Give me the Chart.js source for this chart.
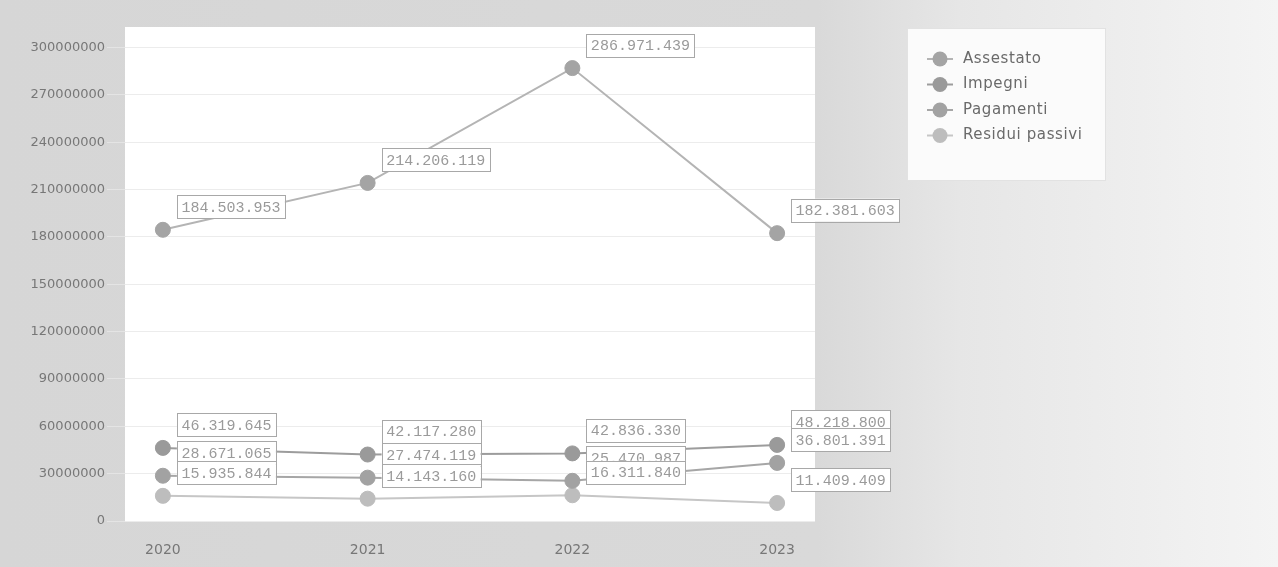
<!DOCTYPE html>
<html><head><meta charset="utf-8">
<script src="https://cdn.jsdelivr.net/npm/chart.js@4/dist/chart.umd.min.js"></script>
<style>html,body{margin:0;padding:0;background:#dcdcdc;}#wrap{width:1278px;height:567px;}</style>
</head><body><div id="wrap"><canvas id="c" width="1278" height="567"></canvas></div>
<script>
const categories = ['2020','2021','2022','2023'];
const assestato = [184503953, 214206119, 286971439, 182381603];
const impegni = [46319645, 42117280, 42836330, 48218800];
const pagamenti = [28671065, 27474119, 25470987, 36801391];
const residui = [15935844, 14143160, 16311840, 11409409];
const seriesNames = ['Assestato','Impegni','Pagamenti','Residui passivi'];
const yTicks = [0,30000000,60000000,90000000,120000000,150000000,180000000,210000000,240000000,270000000,300000000];

const lineColors = ['#b4b4b4','#9c9c9c','#a6a6a6','#c6c6c6'];
const pointColors = ['#a4a4a4','#9a9a9a','#a2a2a2','#bdbdbd'];
const allSeries = [assestato, impegni, pagamenti, residui];

function fmt(v){ return String(v).replace(/\B(?=(\d{3})+(?!\d))/g,'.'); }

const bgPlugin = {
  id:'bg',
  beforeDraw(chart){
    const {ctx, chartArea:a, width, height} = chart;
    ctx.save();
    const g = ctx.createLinearGradient(0,0,width,0);
    g.addColorStop(0,'#d6d6d6');
    g.addColorStop(0.64,'#d9d9d9');
    g.addColorStop(0.75,'#e6e6e6');
    g.addColorStop(1,'#f4f4f4');
    ctx.fillStyle = g;
    ctx.fillRect(0,0,width,height);
    ctx.fillStyle = '#ffffff';
    ctx.fillRect(a.left, a.top, a.right-a.left, a.bottom-a.top+1);
    ctx.restore();
  }
};

const labelPlugin = {
  id:'vlabels',
  afterDatasetsDraw(chart){
    const ctx = chart.ctx;
    ctx.save();
    ctx.font = '15px "Liberation Mono", monospace';
    ctx.textBaseline = 'middle';
    chart.data.datasets.forEach((ds, di) => {
      const meta = chart.getDatasetMeta(di);
      meta.data.forEach((pt, i) => {
        const txt = fmt(ds.data[i].y);
        const w = ctx.measureText(txt).width + 9;
        const h = 23;
        const x = pt.x + 14;
        const cy = pt.y - 23;
        ctx.fillStyle = '#ffffff';
        ctx.fillRect(x, cy - h/2, w, h);
        ctx.strokeStyle = '#a8a8a8';
        ctx.lineWidth = 1;
        ctx.strokeRect(Math.round(x)+0.5, Math.round(cy - h/2)+0.5, Math.round(w), h);
        ctx.fillStyle = '#9a9a9a';
        ctx.fillText(txt, x + 4.5, cy + 1);
      });
    });
    ctx.restore();
  }
};

const legendPlugin = {
  id:'customLegend',
  afterDraw(chart){
    const ctx = chart.ctx;
    ctx.save();
    ctx.fillStyle = '#fbfbfb';
    ctx.fillRect(907, 28, 198, 152);
    ctx.strokeStyle = '#e2e2e2';
    ctx.lineWidth = 1;
    ctx.strokeRect(907.5, 28.5, 198, 152);
    ctx.font = '15px "DejaVu Sans", sans-serif';
    if ('letterSpacing' in ctx) ctx.letterSpacing = '0.6px';
    ctx.textBaseline = 'middle';
    chart.data.datasets.forEach((ds, i) => {
      const y = 59 + i*25.5;
      ctx.strokeStyle = ds.borderColor;
      ctx.lineWidth = 2;
      ctx.beginPath(); ctx.moveTo(927, y); ctx.lineTo(953, y); ctx.stroke();
      ctx.fillStyle = ds.pointBackgroundColor;
      ctx.beginPath(); ctx.arc(940, y, 7.5, 0, Math.PI*2); ctx.fill();
      ctx.fillStyle = '#6a6a6a';
      ctx.fillText(ds.label, 963, y);
    });
    ctx.restore();
  }
};

const datasets = allSeries.map((vals, k) => ({
  label: seriesNames[k],
  data: vals.map((v, i) => ({x: i, y: v})),
  borderColor: lineColors[k],
  backgroundColor: pointColors[k],
  pointBackgroundColor: pointColors[k],
  pointBorderColor: pointColors[k],
  pointRadius: 7.5,
  pointBorderWidth: 1,
  borderWidth: 2,
  tension: 0,
  fill: false
}));

new Chart(document.getElementById('c'), {
  type: 'line',
  data: { datasets },
  options: {
    responsive: false,
    animation: false,
    devicePixelRatio: 1,
    layout: { padding: { left: 0, right: 463, top: 27, bottom: 0 } },
    plugins: { legend: { display: false }, tooltip: { enabled: false } },
    scales: {
      x: {
        type: 'linear',
        min: -0.185, max: 3.185,
        grid: { display: false, drawTicks: false },
        border: { display: false },
        afterBuildTicks(scale){ scale.ticks = categories.map((c, i) => ({value: i})); },
        afterFit(scale){ scale.height = 46; },
        ticks: {
          padding: 21,
          color: '#777777',
          font: { family: 'DejaVu Sans', size: 14 },
          callback: (v) => categories[v]
        }
      },
      y: {
        min: 0, max: 313000000,
        afterBuildTicks(scale){ scale.ticks = yTicks.map(v => ({value: v})); },
        afterFit(scale){ scale.width = 125; },
        border: { display: false },
        grid: { color: '#ececec', lineWidth: 1, drawTicks: true, tickLength: 18, tickColor: '#e4e4e4' },
        ticks: {
          padding: 2,
          color: '#777777',
          font: { family: 'DejaVu Sans', size: 13 },
          callback: (v) => String(v)
        }
      }
    }
  },
  plugins: [bgPlugin, labelPlugin, legendPlugin]
});
</script>
</body></html>
